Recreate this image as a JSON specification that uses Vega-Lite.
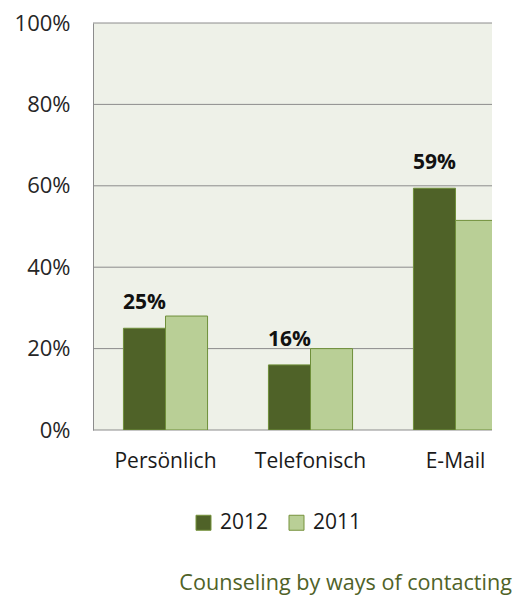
{
  "$schema": "https://vega.github.io/schema/vega-lite/v6.json",
  "autosize": "none",
  "width": 399,
  "height": 407,
  "padding": {"left": 93, "top": 23, "right": 24, "bottom": 166},
  "background": "white",
  "config": {
    "font": "Open Sans",
    "view": {"stroke": null, "fill": "#EEF1E8"}
  },
  "title": {
    "text": "Counseling by ways of contacting",
    "orient": "bottom",
    "anchor": "end",
    "frame": "group",
    "font": "Open Sans",
    "fontSize": 21.6,
    "fontWeight": "normal",
    "color": "#4F6228",
    "dx": 20,
    "offset": 39.5
  },
  "layer": [
    {
      "data": {"values": [{"v": 0}, {"v": 0.2}, {"v": 0.4}, {"v": 0.6}, {"v": 0.8}, {"v": 1}]},
      "mark": {"type": "rule", "color": "#8C8C8C", "strokeWidth": 1},
      "encoding": {
        "y": {
          "field": "v",
          "type": "quantitative",
          "scale": {"domain": [0, 1], "nice": false},
          "axis": {
            "title": null,
            "format": ".0%",
            "values": [0, 0.2, 0.4, 0.6, 0.8, 1],
            "grid": false,
            "domain": true,
            "domainColor": "#8C8C8C",
            "ticks": false,
            "labelFont": "Open Sans",
            "labelFontSize": 22,
            "labelColor": "#262626",
            "labelPadding": 23
          }
        }
      }
    },
    {
      "data": {
        "values": [
          {"kanal": "Persönlich", "jahr": "2012", "wert": 0.25, "label": "25%"},
          {"kanal": "Persönlich", "jahr": "2011", "wert": 0.28, "label": ""},
          {"kanal": "Telefonisch", "jahr": "2012", "wert": 0.16, "label": "16%"},
          {"kanal": "Telefonisch", "jahr": "2011", "wert": 0.20, "label": ""},
          {"kanal": "E-Mail", "jahr": "2012", "wert": 0.594, "label": "59%"},
          {"kanal": "E-Mail", "jahr": "2011", "wert": 0.515, "label": ""}
        ]
      },
      "encoding": {
        "x": {
          "field": "kanal",
          "type": "nominal",
          "sort": ["Persönlich", "Telefonisch", "E-Mail"],
          "scale": {"range": [0, 435], "paddingInner": 0.42, "paddingOuter": 0.21},
          "axis": {
            "title": null,
            "domain": false,
            "ticks": false,
            "labelAngle": 0,
            "labelFont": "Open Sans",
            "labelFontSize": 21,
            "labelColor": "#1a1a1a",
            "labelPadding": 20
          }
        },
        "xOffset": {
          "field": "jahr",
          "type": "nominal",
          "sort": ["2012", "2011"],
          "scale": {"paddingInner": 0, "paddingOuter": 0}
        },
        "y": {"field": "wert", "type": "quantitative"}
      },
      "layer": [
        {
          "mark": {"type": "bar", "clip": true, "stroke": "#6F8F3A", "strokeWidth": 1},
          "encoding": {
            "color": {
              "field": "jahr",
              "type": "nominal",
              "sort": ["2012", "2011"],
              "scale": {"domain": ["2012", "2011"], "range": ["#4F6228", "#B9CF96"]},
              "legend": {
                "title": null,
                "orient": "none",
                "direction": "horizontal",
                "legendX": 100,
                "legendY": 489,
                "padding": 0,
                "symbolType": "square",
                "symbolSize": 225,
                "symbolStrokeColor": "#77933C",
                "symbolStrokeWidth": 1,
                "labelFont": "Open Sans",
                "labelFontSize": 21,
                "labelColor": "#1a1a1a",
                "labelOffset": 6,
                "columnPadding": 17
              }
            }
          }
        },
        {
          "mark": {
            "type": "text",
            "baseline": "alphabetic",
            "dy": -19,
            "font": "Open Sans",
            "fontSize": 21,
            "fontWeight": "bold",
            "color": "#111111"
          },
          "encoding": {
            "text": {"field": "label"}
          }
        }
      ]
    }
  ]
}
